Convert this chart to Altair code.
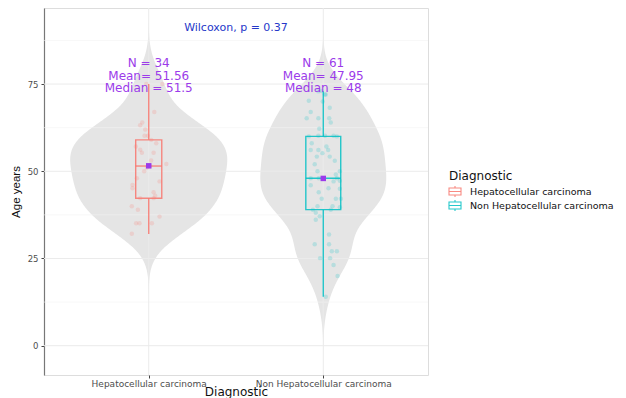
import altair as alt
import pandas as pd

groups = ["Hepatocellular carcinoma", "Non Hepatocellular carcinoma"]
colors = ["#F8766D", "#00BFC4"]

# jittered observations (age, horizontal jitter in category units)
hcc_age = [75, 75, 67, 63.2, 60.2, 60.2, 59, 57.1, 56.2, 55.3, 55.3, 53.1, 51.1, 52.1,
           48, 47.1, 46.1, 45.1, 44, 43, 42.3, 42.3, 40, 39, 37, 35.1, 35.1, 35.1, 32.1,
           50, 51.5, 58, 64, 62]
hcc_jit = [-0.014, 0.078, 0.032, -0.049, -0.024, -0.005, 0.014, -0.074, -0.049, -0.039,
           0.028, 0.014, -0.010, 0.101, -0.068, 0.062, -0.093, -0.093, 0.028, 0.037,
           -0.049, 0.028, -0.097, -0.062, 0.062, -0.072, -0.053, 0.018, -0.097,
           -0.026, 0.009, 0.043, -0.037, -0.020]
non_age = [72.9, 72, 70.2, 68.2, 67, 65.2, 65.2, 65.2, 62.2, 60.2, 60.2, 60.2, 57.1, 56.1,
           56.1, 56.1, 55.2, 54.2, 54.2, 50, 50, 49.1, 47.3, 47.1, 45.1, 45, 42.1, 42.1,
           42.1, 40, 40, 39.7, 38.1, 37.1, 36.1, 31.9, 29.1, 29.1, 27.1, 27.1, 25.1, 25.1,
           23.1, 20, 14,
           48, 48, 48, 60, 60, 39, 39, 52, 53, 58, 44, 46, 64, 70, 73, 72]
non_jit = [-0.028, 0.014, -0.083, 0.037, -0.072, -0.095, -0.028, 0.034, -0.023, -0.028,
           0.010, 0.059, 0.018, -0.072, -0.028, 0.028, -0.005, -0.037, 0.037, -0.033,
           0.095, 0.072, 0.095, 0.059, 0.030, 0.095, -0.009, 0.072, 0.101, -0.033,
           0.053, 0.095, -0.043, -0.020, -0.043, 0.033, -0.049, 0.033, 0.049, 0.078,
           -0.018, 0.039, 0.059, 0.082, 0.014,
           -0.072, -0.026, 0.078, -0.083, 0.078, -0.060, 0.043, -0.049, 0.066, -0.066,
           -0.026, -0.072, 0.043, -0.003, -0.009, 0.009]

# box statistics
box_lower = [32, 14]
box_q1 = [42.25, 39]
box_median = [51.5, 48]
box_q3 = [59, 60]
box_upper = [75, 73]
group_mean = [51.56, 47.95]
group_n = [34, 61]
median_txt = ["51.5", "48"]
p_text = "Wilcoxon, p = 0.37"

y_ticks = [0, 25, 50, 75]
y_minor = [12.5, 37.5, 62.5, 87.5]

FONT = "DejaVu Sans"
YFONT = "Liberation Sans"
PURPLE = "#9B3BEA"

pts = pd.DataFrame({
    "group": [groups[0]] * len(hcc_age) + [groups[1]] * len(non_age),
    "pos": [1] * len(hcc_age) + [2] * len(non_age),
    "age": hcc_age + non_age,
    "jit": hcc_jit + non_jit,
})

stats = pd.DataFrame({
    "group": groups, "pos": [1, 2], "lower": box_lower, "q1": box_q1,
    "median": box_median, "q3": box_q3, "upper": box_upper,
    "mean": group_mean, "n": group_n,
    "label": [f"N = {n}\nMean= {m}\nMedian = {md}" for n, m, md in zip(group_n, group_mean, median_txt)],
})

xscale = alt.Scale(domain=[0.4, 2.6], nice=False, zero=False)
yscale = alt.Scale(domain=[-8.4, 96.8], nice=False, zero=False)
cscale = alt.Scale(domain=groups, range=colors)

label_expr = f"datum.value == 1 ? '{groups[0]}' : '{groups[1]}'"

x_axis = alt.Axis(values=[1, 2], labelExpr=label_expr, title="Diagnostic", grid=False,
                  labelColor="#4d4d4d", labelFontSize=9, labelFont=FONT,
                  titleFont=FONT, titleFontSize=12, titleFontWeight="normal", titleColor="#111",
                  titlePadding=-2, tickColor="#444", tickSize=3, domain=False, labelPadding=1)
y_axis = alt.Axis(values=y_ticks, title="Age years", grid=False,
                  labelColor="#4d4d4d", labelFontSize=8.5, labelFont=FONT,
                  titleFont=YFONT, titleFontSize=11.5, titleFontWeight="normal",
                  titleColor="#111", tickColor="#444", tickSize=3, domainColor="#777",
                  domainWidth=1.2, labelPadding=3, titlePadding=6)

base_pts = alt.Chart(pts)

violin = base_pts.transform_density(
    "age", groupby=["group", "pos"], bandwidth=5.5, extent=[-2, 96], steps=250,
    as_=["age", "density"]
).transform_joinaggregate(
    maxd="max(density)"
).transform_calculate(
    left="datum.pos - 0.45 * datum.density / datum.maxd",
    right="datum.pos + 0.45 * datum.density / datum.maxd",
).mark_area(orient="horizontal", color="#e5e5e5").encode(
    y=alt.Y("age:Q", scale=yscale, axis=y_axis),
    x=alt.X("left:Q", scale=xscale, axis=x_axis),
    x2="right:Q",
    detail="group:N",
)

grid_major = alt.Chart(pd.DataFrame({"v": y_ticks})).mark_rule(
    color="#ebebeb", strokeWidth=1).encode(y=alt.Y("v:Q", scale=yscale))
grid_minor = alt.Chart(pd.DataFrame({"v": y_minor})).mark_rule(
    color="#f3f3f3", strokeWidth=0.6).encode(y=alt.Y("v:Q", scale=yscale))
grid_x = alt.Chart(pd.DataFrame({"p": [1, 2]})).mark_rule(
    color="#ebebeb", strokeWidth=1).encode(x=alt.X("p:Q", scale=xscale))

points = base_pts.transform_calculate(xj="datum.pos + datum.jit").mark_circle(
    size=20, opacity=0.2).encode(
    x=alt.X("xj:Q", scale=xscale),
    y=alt.Y("age:Q", scale=yscale),
    color=alt.Color("group:N", scale=cscale, legend=None),
)

sbase = alt.Chart(stats).transform_joinaggregate(maxn="max(n)").transform_calculate(
    hw="0.1 * sqrt(datum.n / datum.maxn)",
    bl="datum.pos - datum.hw",
    br="datum.pos + datum.hw",
)

BOX_OP = 0.85
whisk_lo = sbase.mark_rule(strokeWidth=1.4, opacity=BOX_OP).encode(
    x=alt.X("pos:Q", scale=xscale), y=alt.Y("lower:Q", scale=yscale), y2="q1:Q",
    color=alt.Color("group:N", scale=cscale, legend=None))
whisk_hi = sbase.mark_rule(strokeWidth=1.4, opacity=BOX_OP).encode(
    x=alt.X("pos:Q", scale=xscale), y=alt.Y("q3:Q", scale=yscale), y2="upper:Q",
    color=alt.Color("group:N", scale=cscale, legend=None))
box = sbase.mark_rect(filled=False, strokeWidth=1.4, strokeOpacity=BOX_OP).encode(
    x=alt.X("bl:Q", scale=xscale), x2="br:Q",
    y=alt.Y("q1:Q", scale=yscale), y2="q3:Q",
    stroke=alt.Stroke("group:N", scale=cscale, legend=alt.Legend(
        title="Diagnostic", orient="none", legendX=405, legendY=163,
        symbolType="M-1.2,-0.7H1.2V0.7H-1.2Z M-1.2,0H1.2 M0,-0.7V-1.1 M0,0.7V1.1",
        symbolSize=100, symbolStrokeWidth=1.1, symbolFillColor="transparent",
        symbolOffset=0, symbolOpacity=0.85,
        labelFont=FONT, labelFontSize=9.5, labelColor="#111", labelLimit=300,
        titleFont=FONT, titleFontSize=12, titleFontWeight="normal", titleColor="#111",
        rowPadding=-4.5, labelOffset=9, titlePadding=2.5)),
)
med = sbase.mark_rule(strokeWidth=1.4, opacity=BOX_OP).encode(
    x=alt.X("bl:Q", scale=xscale), x2="br:Q", y=alt.Y("median:Q", scale=yscale),
    color=alt.Color("group:N", scale=cscale, legend=None))
mean_pt = sbase.mark_point(shape="square", filled=True, size=30, opacity=1,
                           color=PURPLE).encode(
    x=alt.X("pos:Q", scale=xscale), y=alt.Y("mean:Q", scale=yscale))

labels = sbase.mark_text(font=FONT, fontSize=12, color=PURPLE, lineBreak="\n",
                         lineHeight=12.8, baseline="middle", align="center").encode(
    x=alt.X("pos:Q", scale=xscale), y=alt.datum(81.1, scale=yscale), text="label:N")

ptext = alt.Chart(pd.DataFrame({"t": [p_text]})).mark_text(
    font=FONT, fontSize=11, color="#2538C9", baseline="middle", align="center").encode(
    x=alt.datum(1.5, scale=xscale), y=alt.datum(91, scale=yscale), text="t:N")

chart = alt.layer(
    violin, grid_minor, grid_major, grid_x, points, whisk_lo, whisk_hi, box, med,
    mean_pt, labels, ptext
).resolve_legend(
    stroke="independent", color="independent"
).properties(
    width=384, height=367,
    autosize=alt.AutoSizeParams(type="none"),
    padding={"left": 36, "top": 0, "right": 190, "bottom": 26},
).configure_view(stroke="#a8a8a8", strokeWidth=1.2).configure(background="white")

chart.save("out.html", embed_options={"renderer": "svg", "actions": False})
